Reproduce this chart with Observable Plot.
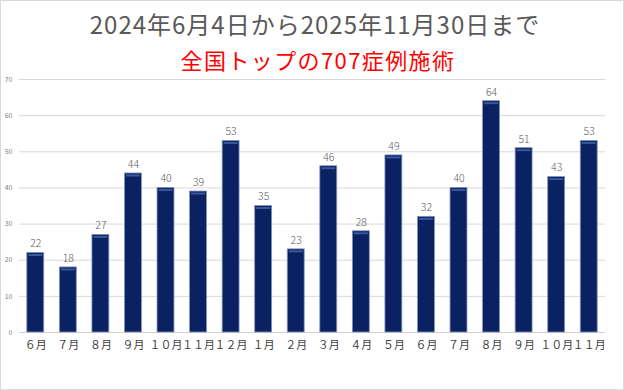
<!DOCTYPE html>
<html><head><meta charset="utf-8">
<script src="https://cdn.jsdelivr.net/npm/d3@7"></script>
<script src="https://cdn.jsdelivr.net/npm/@observablehq/plot@0.6"></script>
<style>
html,body{margin:0;padding:0;background:#fff;}
#wrap{position:relative;width:624px;height:390px;overflow:hidden;background:#fff;font-family:"Noto Sans CJK JP","Noto Sans",sans-serif;}
#t1{position:absolute;left:3px;top:11.4px;width:624px;text-align:center;font-size:24px;color:#595959;line-height:26px;font-weight:400;letter-spacing:1px;}
#t2{position:absolute;left:6px;top:45.6px;width:624px;text-align:center;font-size:22px;color:#ff0000;line-height:26px;font-weight:400;letter-spacing:1.4px;}
#chart{position:absolute;left:0;top:70px;}
#border{position:absolute;left:0;top:0;width:622px;height:388px;border:1px solid #d9d9d9;pointer-events:none;}
</style></head>
<body><div id="wrap">
<div id="t1">2024年6月4日から2025年11月30日まで</div>
<div id="t2">全国トップの707症例施術</div>
<div id="chart"></div>
<div id="border"></div>
</div>
<script>
const months = ["６月","７月","８月","９月","１０月","１１月","１２月","１月","２月","３月","４月","５月","６月","７月","８月","９月","１０月","１１月"];
const counts = [22,18,27,44,40,39,53,35,23,46,28,49,32,40,64,51,43,53];
const yTicks = [0,10,20,30,40,50,60,70];

const data = months.map((m,i)=>({i, m, v: counts[i]}));

const plot = Plot.plot({
  width: 624,
  height: 318,
  marginLeft: 19,
  marginRight: 19,
  marginTop: 9,
  marginBottom: 56,
  style: {fontFamily: '"Noto Sans CJK JP","Noto Sans",sans-serif', background: "transparent"},
  x: {type: "band", domain: d3.range(months.length), paddingInner: 0.48, paddingOuter: 0.24, round: false, label: null, tickFormat: i => months[i], tickSize: 0, tickPadding: 9},
  y: {domain: [0,70], ticks: yTicks, label: null, tickSize: 0, tickPadding: 7, grid: false},
  marks: [
    Plot.ruleY(yTicks.filter(t=>t>0), {stroke: "#d9d9d9", strokeWidth: 1}),
    Plot.ruleY([0], {stroke: "#d0d0d0", strokeWidth: 1}),
    Plot.barY(data, {x: "i", y: "v", fill: "#0b2262", stroke: "#8494bc", strokeWidth: 0.8}),
    Plot.tickY(data, {x: "i", y: "v", stroke: "#3a58a0", strokeWidth: 2, dy: 2, inset: 1.5}),
    Plot.text(data, {x: "i", y: "v", text: d => String(d.v), dy: -9, fontSize: 10.5, fill: "#595959", fontWeight: 300}),
    Plot.axisX({tickSize: 0, tickPadding: 9, tickFormat: i => months[i], fontSize: 11, fill: "#404040"}),
    Plot.axisY({ticks: yTicks, tickSize: 0, tickPadding: 7, fontSize: 7, fill: "#7f7f7f"})
  ]
});
document.getElementById("chart").appendChild(plot);
</script>
</body></html>
